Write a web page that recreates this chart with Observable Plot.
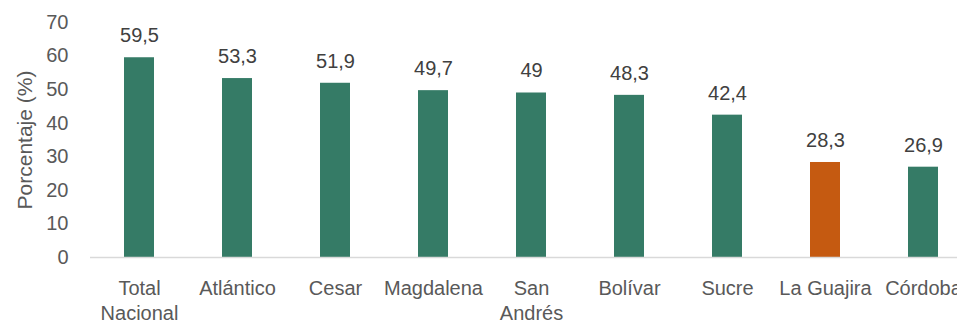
<!DOCTYPE html>
<html>
<head>
<meta charset="utf-8">
<script src="https://cdn.jsdelivr.net/npm/d3@7"></script>
<script src="https://cdn.jsdelivr.net/npm/@observablehq/plot@0.6"></script>
<style>
  html, body { margin: 0; padding: 0; background: #fff; }
  #chart svg { display: block; }
</style>
</head>
<body>
<div id="chart"></div>
<script>
const categories = ["Total\nNacional", "Atlántico", "Cesar", "Magdalena", "San\nAndrés", "Bolívar", "Sucre", "La Guajira", "Córdoba"];
const values = [59.5, 53.3, 51.9, 49.7, 49, 48.3, 42.4, 28.3, 26.9];
const highlight = "La Guajira";
const yTicks = [0, 10, 20, 30, 40, 50, 60, 70];
const yTitle = "Porcentaje (%)";

const data = categories.map((c, i) => ({
  name: c,
  value: values[i],
  label: String(values[i]).replace(".", ","),
  color: c === highlight ? "#C55A11" : "#357B66"
}));

const font = "'Liberation Sans', Arial, sans-serif";

const chart = Plot.plot({
  width: 957,
  height: 324,
  marginTop: 22,
  marginBottom: 67,
  marginLeft: 90,
  marginRight: -15,
  style: { fontFamily: font, fontSize: "20px", color: "#595959", background: "#fff", overflow: "hidden" },
  x: { domain: categories, paddingInner: 0.69, paddingOuter: 0.345, axis: null },
  y: { domain: [0, 70], ticks: yTicks },
  marks: [
    Plot.axisY(yTicks, {
      tickSize: 0,
      tickPadding: 22,
      fontSize: 20,
      fill: "#595959",
      label: null
    }),
    Plot.text([yTitle], {
      text: d => d,
      frameAnchor: "left",
      textAnchor: "middle",
      rotate: -90,
      dx: -65,
      fontSize: 21,
      fill: "#595959"
    }),
    Plot.barY(data, { x: "name", y: "value", fill: "color" }),
    Plot.ruleY([0], { stroke: "#d9d9d9", strokeWidth: 1.5 }),
    Plot.text(data, {
      x: "name", y: "value", text: "label",
      dy: -22, fontSize: 20, fill: "#404040"
    }),
    Plot.text(data, {
      x: "name", text: "name",
      frameAnchor: "bottom", lineAnchor: "top",
      dy: 20, lineHeight: 1.25, fontSize: 20, fill: "#595959"
    })
  ]
});

document.getElementById("chart").appendChild(chart);
</script>
</body>
</html>
